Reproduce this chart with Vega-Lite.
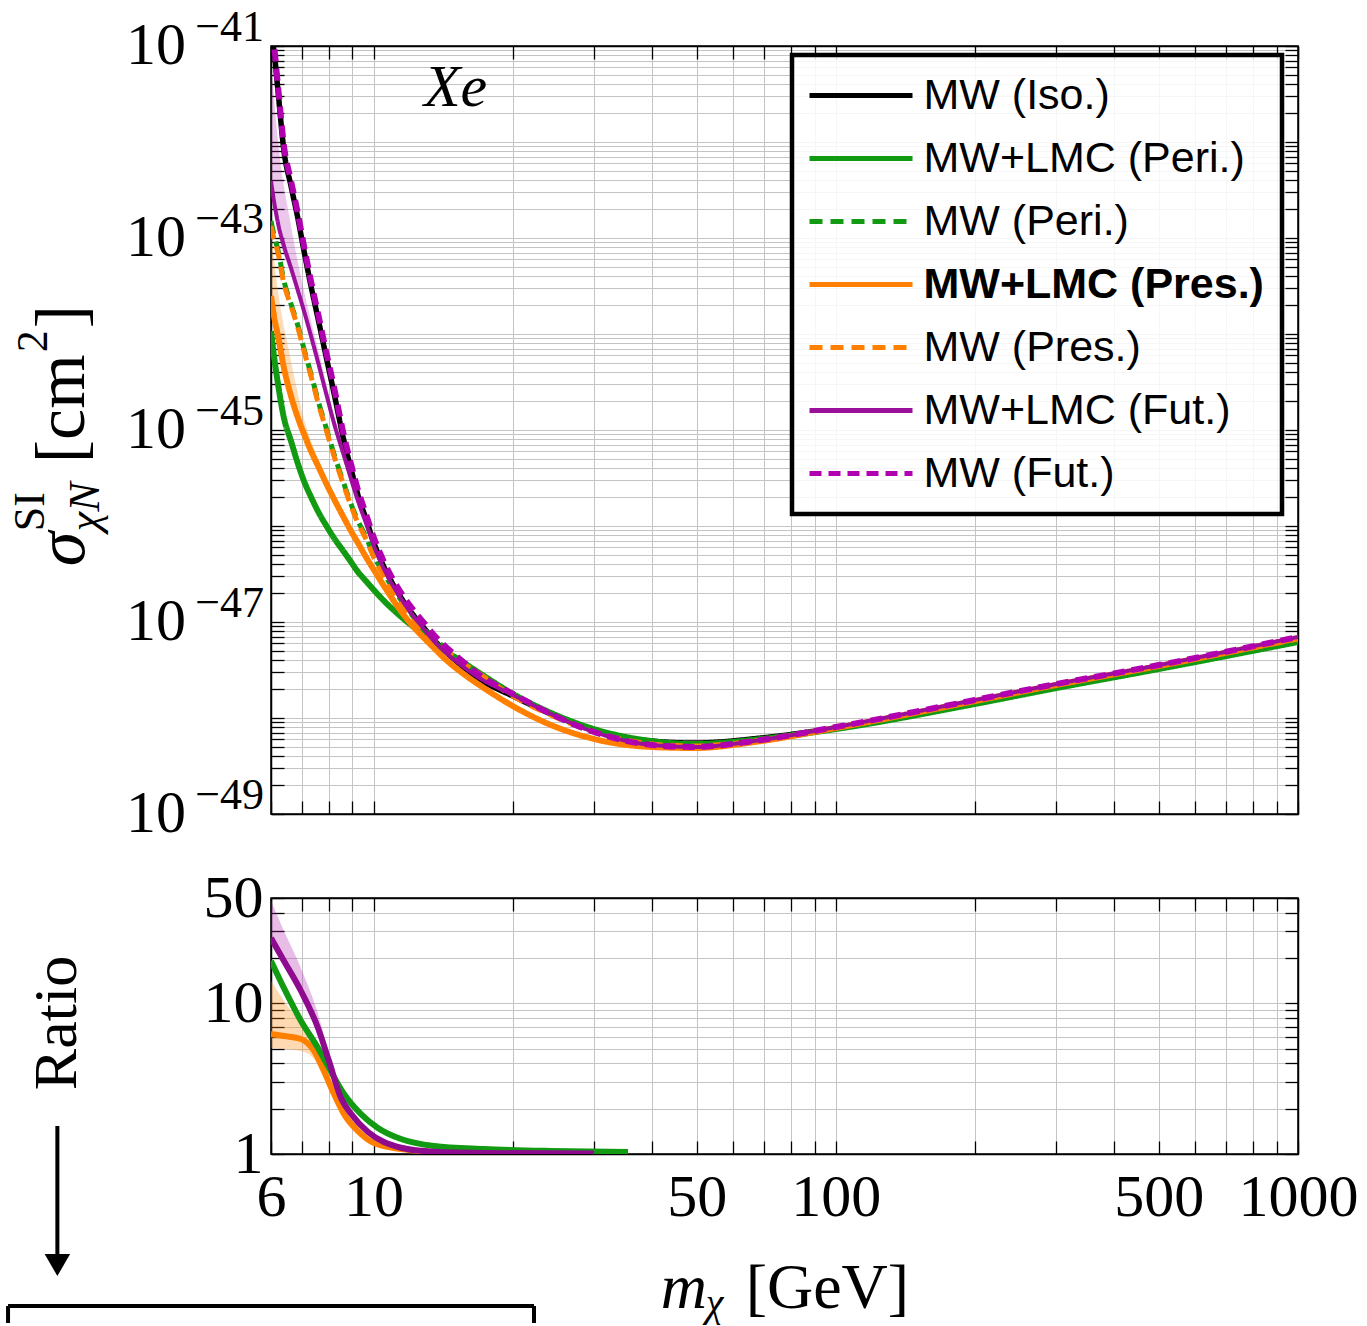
{
"$schema": "https://vega.github.io/schema/vega-lite/v6.json",
"background": "white",
"padding": {"left": 5, "top": 5, "right": 5, "bottom": 0},
"bounds": "flush",
"spacing": 84,
"config": {
  "font": "Liberation Serif",
  "view": {"stroke": "black", "strokeWidth": 1.5},
  "axis": {"tickSize": -13, "tickColor": "black", "tickWidth": 1.3, "domainColor": "black", "domainWidth": 1.5, "gridColor": "#c4c4c4", "gridWidth": 1, "labelFont": "Liberation Serif", "labelFontSize": 60, "labelColor": "black", "labelOverlap": false, "labelFlush": false, "labelBound": false}
},
"resolve": {"scale": {"color": "independent", "strokeDash": "independent"}, "legend": {"color": "independent", "strokeDash": "independent"}},
"datasets": {
"top": [
{"s":"MW (Iso.)","m":6,"v":1.27e-41},{"s":"MW (Iso.)","m":6.09,"v":8.87e-42},{"s":"MW (Iso.)","m":6.213,"v":3.40e-42},{"s":"MW (Iso.)","m":6.401,"v":8.05e-43},{"s":"MW (Iso.)","m":6.629,"v":3.48e-43},{"s":"MW (Iso.)","m":6.864,"v":1.58e-43},{"s":"MW (Iso.)","m":7.072,"v":7.33e-44},{"s":"MW (Iso.)","m":7.323,"v":3.16e-44},{"s":"MW (Iso.)","m":7.621,"v":1.30e-44},{"s":"MW (Iso.)","m":7.891,"v":5.90e-45},{"s":"MW (Iso.)","m":8.212,"v":2.43e-45},{"s":"MW (Iso.)","m":8.632,"v":7.67e-46},{"s":"MW (Iso.)","m":8.938,"v":3.92e-46},{"s":"MW (Iso.)","m":9.255,"v":2.10e-46},{"s":"MW (Iso.)","m":9.631,"v":1.18e-46},{"s":"MW (Iso.)","m":10.023,"v":6.65e-47},{"s":"MW (Iso.)","m":10.535,"v":3.74e-47},{"s":"MW (Iso.)","m":11.299,"v":2.01e-47},{"s":"MW (Iso.)","m":12.054,"v":1.27e-47},{"s":"MW (Iso.)","m":12.857,"v":8.66e-48},{"s":"MW (Iso.)","m":13.447,"v":6.65e-48},{"s":"MW (Iso.)","m":14.206,"v":5.11e-48},{"s":"MW (Iso.)","m":15.461,"v":3.56e-48},{"s":"MW (Iso.)","m":17.08,"v":2.49e-48},{"s":"MW (Iso.)","m":20.03,"v":1.69e-48},{"s":"MW (Iso.)","m":24.21,"v":1.10e-48},{"s":"MW (Iso.)","m":30,"v":7.50e-49},{"s":"MW (Iso.)","m":40,"v":5.75e-49},{"s":"MW (Iso.)","m":49.4,"v":5.49e-49},{"s":"MW (Iso.)","m":68.9,"v":6.19e-49},{"s":"MW (Iso.)","m":100,"v":7.87e-49},{"s":"MW (Iso.)","m":200,"v":1.43e-48},{"s":"MW (Iso.)","m":300,"v":2.10e-48},{"s":"MW (Iso.)","m":500,"v":3.32e-48},{"s":"MW (Iso.)","m":1000,"v":6.34e-48},
{"s":"MW+LMC (Peri.)","m":6,"v":1.07e-44},{"s":"MW+LMC (Peri.)","m":6.09,"v":5.90e-45},{"s":"MW+LMC (Peri.)","m":6.213,"v":3.01e-45},{"s":"MW+LMC (Peri.)","m":6.401,"v":1.33e-45},{"s":"MW+LMC (Peri.)","m":6.629,"v":7.67e-46},{"s":"MW+LMC (Peri.)","m":6.864,"v":4.42e-46},{"s":"MW+LMC (Peri.)","m":7.072,"v":2.94e-46},{"s":"MW+LMC (Peri.)","m":7.323,"v":2.01e-46},{"s":"MW+LMC (Peri.)","m":7.621,"v":1.36e-46},{"s":"MW+LMC (Peri.)","m":7.891,"v":1.02e-46},{"s":"MW+LMC (Peri.)","m":8.212,"v":7.50e-47},{"s":"MW+LMC (Peri.)","m":8.632,"v":5.36e-47},{"s":"MW+LMC (Peri.)","m":8.938,"v":4.22e-47},{"s":"MW+LMC (Peri.)","m":9.255,"v":3.32e-47},{"s":"MW+LMC (Peri.)","m":9.631,"v":2.67e-47},{"s":"MW+LMC (Peri.)","m":10.023,"v":2.15e-47},{"s":"MW+LMC (Peri.)","m":10.535,"v":1.66e-47},{"s":"MW+LMC (Peri.)","m":11.299,"v":1.21e-47},{"s":"MW+LMC (Peri.)","m":12.054,"v":9.31e-48},{"s":"MW+LMC (Peri.)","m":12.857,"v":7.33e-48},{"s":"MW+LMC (Peri.)","m":13.447,"v":6.19e-48},{"s":"MW+LMC (Peri.)","m":14.206,"v":5.11e-48},{"s":"MW+LMC (Peri.)","m":15.461,"v":3.92e-48},{"s":"MW+LMC (Peri.)","m":17.08,"v":2.87e-48},{"s":"MW+LMC (Peri.)","m":20.03,"v":1.78e-48},{"s":"MW+LMC (Peri.)","m":24.21,"v":1.13e-48},{"s":"MW+LMC (Peri.)","m":30,"v":7.67e-49},{"s":"MW+LMC (Peri.)","m":40,"v":5.75e-49},{"s":"MW+LMC (Peri.)","m":49.4,"v":5.36e-49},{"s":"MW+LMC (Peri.)","m":68.9,"v":6.04e-49},{"s":"MW+LMC (Peri.)","m":100,"v":7.67e-49},{"s":"MW+LMC (Peri.)","m":200,"v":1.40e-48},{"s":"MW+LMC (Peri.)","m":300,"v":2.05e-48},{"s":"MW+LMC (Peri.)","m":500,"v":3.24e-48},{"s":"MW+LMC (Peri.)","m":1000,"v":6.19e-48},
{"s":"MW (Peri.)","m":6,"v":1.50e-43},{"s":"MW (Peri.)","m":6.09,"v":1.07e-43},{"s":"MW (Peri.)","m":6.213,"v":7.50e-44},{"s":"MW (Peri.)","m":6.401,"v":3.56e-44},{"s":"MW (Peri.)","m":6.629,"v":2.05e-44},{"s":"MW (Peri.)","m":6.864,"v":1.21e-44},{"s":"MW (Peri.)","m":7.072,"v":6.98e-45},{"s":"MW (Peri.)","m":7.323,"v":3.83e-45},{"s":"MW (Peri.)","m":7.621,"v":1.87e-45},{"s":"MW (Peri.)","m":7.891,"v":1.07e-45},{"s":"MW (Peri.)","m":8.212,"v":5.62e-46},{"s":"MW (Peri.)","m":8.632,"v":2.74e-46},{"s":"MW (Peri.)","m":8.938,"v":1.69e-46},{"s":"MW (Peri.)","m":9.255,"v":1.13e-46},{"s":"MW (Peri.)","m":9.631,"v":7.67e-47},{"s":"MW (Peri.)","m":10.023,"v":4.87e-47},{"s":"MW (Peri.)","m":10.535,"v":3.16e-47},{"s":"MW (Peri.)","m":11.299,"v":1.87e-47},{"s":"MW (Peri.)","m":12.054,"v":1.21e-47},{"s":"MW (Peri.)","m":12.857,"v":8.45e-48},{"s":"MW (Peri.)","m":13.447,"v":6.81e-48},{"s":"MW (Peri.)","m":14.206,"v":5.49e-48},{"s":"MW (Peri.)","m":15.461,"v":4.02e-48},{"s":"MW (Peri.)","m":17.08,"v":2.87e-48},{"s":"MW (Peri.)","m":20.03,"v":1.74e-48},{"s":"MW (Peri.)","m":24.21,"v":1.10e-48},{"s":"MW (Peri.)","m":30,"v":7.33e-49},{"s":"MW (Peri.)","m":40,"v":5.49e-49},{"s":"MW (Peri.)","m":49.4,"v":5.24e-49},{"s":"MW (Peri.)","m":68.9,"v":6.04e-49},{"s":"MW (Peri.)","m":100,"v":7.87e-49},{"s":"MW (Peri.)","m":200,"v":1.47e-48},{"s":"MW (Peri.)","m":300,"v":2.15e-48},{"s":"MW (Peri.)","m":500,"v":3.40e-48},{"s":"MW (Peri.)","m":1000,"v":6.49e-48},
{"s":"MW+LMC (Pres.)","m":6,"v":2.49e-44},{"s":"MW+LMC (Pres.)","m":6.09,"v":1.54e-44},{"s":"MW+LMC (Pres.)","m":6.213,"v":9.53e-45},{"s":"MW+LMC (Pres.)","m":6.401,"v":4.42e-45},{"s":"MW+LMC (Pres.)","m":6.629,"v":2.26e-45},{"s":"MW+LMC (Pres.)","m":6.864,"v":1.33e-45},{"s":"MW+LMC (Pres.)","m":7.072,"v":9.08e-46},{"s":"MW+LMC (Pres.)","m":7.323,"v":6.04e-46},{"s":"MW+LMC (Pres.)","m":7.621,"v":4.02e-46},{"s":"MW+LMC (Pres.)","m":7.891,"v":2.81e-46},{"s":"MW+LMC (Pres.)","m":8.212,"v":1.91e-46},{"s":"MW+LMC (Pres.)","m":8.632,"v":1.21e-46},{"s":"MW+LMC (Pres.)","m":8.938,"v":8.87e-47},{"s":"MW+LMC (Pres.)","m":9.255,"v":6.65e-47},{"s":"MW+LMC (Pres.)","m":9.631,"v":4.75e-47},{"s":"MW+LMC (Pres.)","m":10.023,"v":3.48e-47},{"s":"MW+LMC (Pres.)","m":10.535,"v":2.37e-47},{"s":"MW+LMC (Pres.)","m":11.299,"v":1.43e-47},{"s":"MW+LMC (Pres.)","m":12.054,"v":9.53e-48},{"s":"MW+LMC (Pres.)","m":12.857,"v":6.81e-48},{"s":"MW+LMC (Pres.)","m":13.447,"v":5.49e-48},{"s":"MW+LMC (Pres.)","m":14.206,"v":4.22e-48},{"s":"MW+LMC (Pres.)","m":15.461,"v":3.01e-48},{"s":"MW+LMC (Pres.)","m":17.08,"v":2.15e-48},{"s":"MW+LMC (Pres.)","m":20.03,"v":1.33e-48},{"s":"MW+LMC (Pres.)","m":24.21,"v":8.45e-49},{"s":"MW+LMC (Pres.)","m":30,"v":6.04e-49},{"s":"MW+LMC (Pres.)","m":40,"v":4.99e-49},{"s":"MW+LMC (Pres.)","m":49.4,"v":4.87e-49},{"s":"MW+LMC (Pres.)","m":68.9,"v":5.75e-49},{"s":"MW+LMC (Pres.)","m":100,"v":7.87e-49},{"s":"MW+LMC (Pres.)","m":200,"v":1.50e-48},{"s":"MW+LMC (Pres.)","m":300,"v":2.21e-48},{"s":"MW+LMC (Pres.)","m":500,"v":3.48e-48},{"s":"MW+LMC (Pres.)","m":1000,"v":6.81e-48},
{"s":"MW (Pres.)","m":6,"v":1.33e-43},{"s":"MW (Pres.)","m":6.09,"v":9.77e-44},{"s":"MW (Pres.)","m":6.213,"v":6.98e-44},{"s":"MW (Pres.)","m":6.401,"v":3.32e-44},{"s":"MW (Pres.)","m":6.629,"v":1.96e-44},{"s":"MW (Pres.)","m":6.864,"v":1.15e-44},{"s":"MW (Pres.)","m":7.072,"v":6.65e-45},{"s":"MW (Pres.)","m":7.323,"v":3.65e-45},{"s":"MW (Pres.)","m":7.621,"v":1.78e-45},{"s":"MW (Pres.)","m":7.891,"v":1.02e-45},{"s":"MW (Pres.)","m":8.212,"v":5.36e-46},{"s":"MW (Pres.)","m":8.632,"v":2.61e-46},{"s":"MW (Pres.)","m":8.938,"v":1.62e-46},{"s":"MW (Pres.)","m":9.255,"v":1.07e-46},{"s":"MW (Pres.)","m":9.631,"v":7.33e-47},{"s":"MW (Pres.)","m":10.023,"v":4.64e-47},{"s":"MW (Pres.)","m":10.535,"v":3.01e-47},{"s":"MW (Pres.)","m":11.299,"v":1.78e-47},{"s":"MW (Pres.)","m":12.054,"v":1.15e-47},{"s":"MW (Pres.)","m":12.857,"v":8.05e-48},{"s":"MW (Pres.)","m":13.447,"v":6.49e-48},{"s":"MW (Pres.)","m":14.206,"v":5.24e-48},{"s":"MW (Pres.)","m":15.461,"v":3.83e-48},{"s":"MW (Pres.)","m":17.08,"v":2.81e-48},{"s":"MW (Pres.)","m":20.03,"v":1.69e-48},{"s":"MW (Pres.)","m":24.21,"v":1.07e-48},{"s":"MW (Pres.)","m":30,"v":7.15e-49},{"s":"MW (Pres.)","m":40,"v":5.36e-49},{"s":"MW (Pres.)","m":49.4,"v":5.11e-49},{"s":"MW (Pres.)","m":68.9,"v":5.90e-49},{"s":"MW (Pres.)","m":100,"v":7.87e-49},{"s":"MW (Pres.)","m":200,"v":1.50e-48},{"s":"MW (Pres.)","m":300,"v":2.21e-48},{"s":"MW (Pres.)","m":500,"v":3.48e-48},{"s":"MW (Pres.)","m":1000,"v":6.65e-48},
{"s":"MW+LMC (Fut.)","m":6,"v":3.93e-43},{"s":"MW+LMC (Fut.)","m":6.09,"v":2.43e-43},{"s":"MW+LMC (Fut.)","m":6.213,"v":1.43e-43},{"s":"MW+LMC (Fut.)","m":6.401,"v":8.25e-44},{"s":"MW+LMC (Fut.)","m":6.629,"v":4.87e-44},{"s":"MW+LMC (Fut.)","m":6.864,"v":2.81e-44},{"s":"MW+LMC (Fut.)","m":7.072,"v":1.74e-44},{"s":"MW+LMC (Fut.)","m":7.323,"v":9.53e-45},{"s":"MW+LMC (Fut.)","m":7.621,"v":4.64e-45},{"s":"MW+LMC (Fut.)","m":7.891,"v":2.43e-45},{"s":"MW+LMC (Fut.)","m":8.212,"v":1.18e-45},{"s":"MW+LMC (Fut.)","m":8.632,"v":5.36e-46},{"s":"MW+LMC (Fut.)","m":8.938,"v":3.09e-46},{"s":"MW+LMC (Fut.)","m":9.255,"v":1.82e-46},{"s":"MW+LMC (Fut.)","m":9.631,"v":1.07e-46},{"s":"MW+LMC (Fut.)","m":10.023,"v":6.19e-47},{"s":"MW+LMC (Fut.)","m":10.535,"v":3.56e-47},{"s":"MW+LMC (Fut.)","m":11.299,"v":1.96e-47},{"s":"MW+LMC (Fut.)","m":12.054,"v":1.24e-47},{"s":"MW+LMC (Fut.)","m":12.857,"v":8.45e-48},{"s":"MW+LMC (Fut.)","m":13.447,"v":6.49e-48},{"s":"MW+LMC (Fut.)","m":14.206,"v":4.99e-48},{"s":"MW+LMC (Fut.)","m":15.461,"v":3.56e-48},{"s":"MW+LMC (Fut.)","m":17.08,"v":2.55e-48},{"s":"MW+LMC (Fut.)","m":20.03,"v":1.74e-48},{"s":"MW+LMC (Fut.)","m":24.21,"v":1.10e-48},{"s":"MW+LMC (Fut.)","m":30,"v":7.15e-49},{"s":"MW+LMC (Fut.)","m":40,"v":5.24e-49},{"s":"MW+LMC (Fut.)","m":49.4,"v":4.99e-49},{"s":"MW+LMC (Fut.)","m":68.9,"v":5.90e-49},{"s":"MW+LMC (Fut.)","m":100,"v":8.05e-49},{"s":"MW+LMC (Fut.)","m":200,"v":1.54e-48},{"s":"MW+LMC (Fut.)","m":300,"v":2.26e-48},{"s":"MW+LMC (Fut.)","m":500,"v":3.56e-48},{"s":"MW+LMC (Fut.)","m":1000,"v":6.98e-48},
{"s":"MW (Fut.)","m":6,"v":1.43e-41},{"s":"MW (Fut.)","m":6.09,"v":1.0e-41},{"s":"MW (Fut.)","m":6.213,"v":3.83e-42},{"s":"MW (Fut.)","m":6.401,"v":9.08e-43},{"s":"MW (Fut.)","m":6.629,"v":3.93e-43},{"s":"MW (Fut.)","m":6.864,"v":1.78e-43},{"s":"MW (Fut.)","m":7.072,"v":8.25e-44},{"s":"MW (Fut.)","m":7.323,"v":3.56e-44},{"s":"MW (Fut.)","m":7.621,"v":1.47e-44},{"s":"MW (Fut.)","m":7.891,"v":6.65e-45},{"s":"MW (Fut.)","m":8.212,"v":2.81e-45},{"s":"MW (Fut.)","m":8.632,"v":8.66e-46},{"s":"MW (Fut.)","m":8.938,"v":4.42e-46},{"s":"MW (Fut.)","m":9.255,"v":2.37e-46},{"s":"MW (Fut.)","m":9.631,"v":1.33e-46},{"s":"MW (Fut.)","m":10.023,"v":7.50e-47},{"s":"MW (Fut.)","m":10.535,"v":4.22e-47},{"s":"MW (Fut.)","m":11.299,"v":2.26e-47},{"s":"MW (Fut.)","m":12.054,"v":1.43e-47},{"s":"MW (Fut.)","m":12.857,"v":9.77e-48},{"s":"MW (Fut.)","m":13.447,"v":7.50e-48},{"s":"MW (Fut.)","m":14.206,"v":5.75e-48},{"s":"MW (Fut.)","m":15.461,"v":4.02e-48},{"s":"MW (Fut.)","m":17.08,"v":2.74e-48},{"s":"MW (Fut.)","m":20.03,"v":1.78e-48},{"s":"MW (Fut.)","m":24.21,"v":1.10e-48},{"s":"MW (Fut.)","m":30,"v":7.15e-49},{"s":"MW (Fut.)","m":40,"v":5.24e-49},{"s":"MW (Fut.)","m":49.4,"v":4.99e-49},{"s":"MW (Fut.)","m":68.9,"v":5.90e-49},{"s":"MW (Fut.)","m":100,"v":8.05e-49},{"s":"MW (Fut.)","m":200,"v":1.54e-48},{"s":"MW (Fut.)","m":300,"v":2.26e-48},{"s":"MW (Fut.)","m":500,"v":3.56e-48},{"s":"MW (Fut.)","m":1000,"v":6.98e-48}
],
"band": [
{"s":"MW+LMC (Peri.)","m":6,"lo":8.56e-45,"hi":1.34e-44},{"s":"MW+LMC (Peri.)","m":6.213,"lo":2.51e-45,"hi":3.61e-45},{"s":"MW+LMC (Peri.)","m":6.629,"lo":6.67e-46,"hi":8.82e-46},{"s":"MW+LMC (Peri.)","m":7.072,"lo":2.63e-46,"hi":3.29e-46},{"s":"MW+LMC (Peri.)","m":7.621,"lo":1.24e-46,"hi":1.50e-46},{"s":"MW+LMC (Peri.)","m":8.212,"lo":6.94e-47,"hi":8.10e-47},{"s":"MW+LMC (Peri.)","m":8.938,"lo":3.94e-47,"hi":4.52e-47},{"s":"MW+LMC (Peri.)","m":10.023,"lo":2.03e-47,"hi":2.28e-47},{"s":"MW+LMC (Peri.)","m":11.299,"lo":1.15e-47,"hi":1.27e-47},{"s":"MW+LMC (Peri.)","m":12.857,"lo":7.05e-48,"hi":7.62e-48},{"s":"MW+LMC (Peri.)","m":15.461,"lo":3.81e-48,"hi":4.04e-48},{"s":"MW+LMC (Peri.)","m":20.03,"lo":1.75e-48,"hi":1.82e-48},{"s":"MW+LMC (Peri.)","m":30,"lo":7.59e-49,"hi":7.75e-49},
{"s":"MW+LMC (Pres.)","m":6,"lo":1.99e-44,"hi":1.18e-43},{"s":"MW+LMC (Pres.)","m":6.213,"lo":7.94e-45,"hi":2.8e-44},{"s":"MW+LMC (Pres.)","m":6.629,"lo":1.97e-45,"hi":5.24e-45},{"s":"MW+LMC (Pres.)","m":7.072,"lo":8.11e-46,"hi":1.30e-45},{"s":"MW+LMC (Pres.)","m":7.621,"lo":3.65e-46,"hi":4.75e-46},{"s":"MW+LMC (Pres.)","m":8.212,"lo":1.77e-46,"hi":2.15e-46},{"s":"MW+LMC (Pres.)","m":8.938,"lo":8.29e-47,"hi":9.77e-47},{"s":"MW+LMC (Pres.)","m":10.023,"lo":3.28e-47,"hi":3.69e-47},{"s":"MW+LMC (Pres.)","m":11.299,"lo":1.36e-47,"hi":1.50e-47},{"s":"MW+LMC (Pres.)","m":12.857,"lo":6.55e-48,"hi":7.08e-48},{"s":"MW+LMC (Pres.)","m":15.461,"lo":2.92e-48,"hi":3.10e-48},{"s":"MW+LMC (Pres.)","m":20.03,"lo":1.30e-48,"hi":1.36e-48},{"s":"MW+LMC (Pres.)","m":30,"lo":5.98e-49,"hi":6.10e-49},
{"s":"MW+LMC (Fut.)","m":6,"lo":3.02e-43,"hi":7.0e-42},{"s":"MW+LMC (Fut.)","m":6.213,"lo":1.14e-43,"hi":1.02e-42},{"s":"MW+LMC (Fut.)","m":6.629,"lo":4.06e-44,"hi":1.33e-43},{"s":"MW+LMC (Fut.)","m":7.072,"lo":1.51e-44,"hi":2.81e-44},{"s":"MW+LMC (Fut.)","m":7.621,"lo":4.14e-45,"hi":6.34e-45},{"s":"MW+LMC (Fut.)","m":8.212,"lo":1.07e-45,"hi":1.43e-45},{"s":"MW+LMC (Fut.)","m":8.938,"lo":2.86e-46,"hi":3.48e-46},{"s":"MW+LMC (Fut.)","m":10.023,"lo":5.84e-47,"hi":6.56e-47},{"s":"MW+LMC (Fut.)","m":11.299,"lo":1.87e-47,"hi":2.06e-47},{"s":"MW+LMC (Fut.)","m":12.857,"lo":8.13e-48,"hi":8.79e-48},{"s":"MW+LMC (Fut.)","m":15.461,"lo":3.46e-48,"hi":3.67e-48},{"s":"MW+LMC (Fut.)","m":20.03,"lo":1.71e-48,"hi":1.77e-48},{"s":"MW+LMC (Fut.)","m":30,"lo":7.08e-49,"hi":7.22e-49}
],
"ylab": [
{"v":1e-41,"e":"−41"},{"v":1e-43,"e":"−43"},{"v":1e-45,"e":"−45"},{"v":1e-47,"e":"−47"},{"v":1e-49,"e":"−49"}
],
"ratio": [
{"s":"MW+LMC (Peri.)","m":6,"r":19.1},{"s":"MW+LMC (Peri.)","m":6.401,"r":12.6},{"s":"MW+LMC (Peri.)","m":6.967,"r":7.63},{"s":"MW+LMC (Peri.)","m":7.583,"r":5.05},{"s":"MW+LMC (Peri.)","m":8.01,"r":3.72},{"s":"MW+LMC (Peri.)","m":8.632,"r":2.5},{"s":"MW+LMC (Peri.)","m":9.394,"r":1.84},{"s":"MW+LMC (Peri.)","m":10.22,"r":1.49},{"s":"MW+LMC (Peri.)","m":11.47,"r":1.257},{"s":"MW+LMC (Peri.)","m":13.51,"r":1.13},{"s":"MW+LMC (Peri.)","m":17.34,"r":1.079},{"s":"MW+LMC (Peri.)","m":24.21,"r":1.047},{"s":"MW+LMC (Peri.)","m":35.53,"r":1.031},
{"s":"MW+LMC (Fut.)","m":6,"r":27.1},{"s":"MW+LMC (Fut.)","m":6.401,"r":19.1},{"s":"MW+LMC (Fut.)","m":6.967,"r":12.07},{"s":"MW+LMC (Fut.)","m":7.583,"r":6.86},{"s":"MW+LMC (Fut.)","m":8.01,"r":4.14},{"s":"MW+LMC (Fut.)","m":8.503,"r":2.35},{"s":"MW+LMC (Fut.)","m":8.938,"r":1.85},{"s":"MW+LMC (Fut.)","m":9.728,"r":1.40},{"s":"MW+LMC (Fut.)","m":10.535,"r":1.2},{"s":"MW+LMC (Fut.)","m":11.47,"r":1.1},{"s":"MW+LMC (Fut.)","m":13.51,"r":1.035},{"s":"MW+LMC (Fut.)","m":17.34,"r":1.015},{"s":"MW+LMC (Fut.)","m":30,"r":1.008},
{"s":"MW+LMC (Pres.)","m":6,"r":6.26},{"s":"MW+LMC (Pres.)","m":6.401,"r":6.07},{"s":"MW+LMC (Pres.)","m":6.967,"r":5.8},{"s":"MW+LMC (Pres.)","m":7.434,"r":4.83},{"s":"MW+LMC (Pres.)","m":7.813,"r":3.55},{"s":"MW+LMC (Pres.)","m":8.212,"r":2.5},{"s":"MW+LMC (Pres.)","m":8.632,"r":1.84},{"s":"MW+LMC (Pres.)","m":9.255,"r":1.42},{"s":"MW+LMC (Pres.)","m":10.023,"r":1.183},{"s":"MW+LMC (Pres.)","m":11.47,"r":1.079},{"s":"MW+LMC (Pres.)","m":13.51,"r":1.031},{"s":"MW+LMC (Pres.)","m":18.87,"r":1.008},{"s":"MW+LMC (Pres.)","m":30,"r":1.0}
],
"rband": [
{"s":"MW+LMC (Fut.)","m":6,"lo":25.5,"hi":47.7},{"s":"MW+LMC (Fut.)","m":6.401,"lo":18.2,"hi":30.2},{"s":"MW+LMC (Fut.)","m":6.967,"lo":11.6,"hi":17.1},{"s":"MW+LMC (Fut.)","m":7.583,"lo":6.6,"hi":8.49},{"s":"MW+LMC (Fut.)","m":8.01,"lo":4.0,"hi":4.61},{"s":"MW+LMC (Fut.)","m":8.503,"lo":2.28,"hi":2.45},{"s":"MW+LMC (Fut.)","m":8.938,"lo":1.8,"hi":1.9},
{"s":"MW+LMC (Pres.)","m":6,"lo":5.05,"hi":14.1},{"s":"MW+LMC (Pres.)","m":6.401,"lo":4.97,"hi":10.4},{"s":"MW+LMC (Pres.)","m":6.967,"lo":4.83,"hi":7.3},{"s":"MW+LMC (Pres.)","m":7.434,"lo":4.27,"hi":5.5},{"s":"MW+LMC (Pres.)","m":7.813,"lo":3.15,"hi":3.9},{"s":"MW+LMC (Pres.)","m":8.212,"lo":2.3,"hi":2.65},{"s":"MW+LMC (Pres.)","m":8.632,"lo":1.75,"hi":1.92},
{"s":"MW+LMC (Peri.)","m":6,"lo":18.3,"hi":20.0},{"s":"MW+LMC (Peri.)","m":6.401,"lo":12.1,"hi":13.1},{"s":"MW+LMC (Peri.)","m":6.967,"lo":7.35,"hi":7.95},{"s":"MW+LMC (Peri.)","m":7.583,"lo":4.87,"hi":5.25},{"s":"MW+LMC (Peri.)","m":8.01,"lo":3.6,"hi":3.85},{"s":"MW+LMC (Peri.)","m":8.632,"lo":2.43,"hi":2.58},{"s":"MW+LMC (Peri.)","m":9.394,"lo":1.8,"hi":1.88},{"s":"MW+LMC (Peri.)","m":10.22,"lo":1.46,"hi":1.52}
]
},
"vconcat": [
{
"width": 1027, "height": 768,
"resolve": {"axis": {"x": "independent", "y": "independent"}},
"layer": [
{"data": {"name": "band"}, "transform": [{"filter": "datum.s === 'MW+LMC (Peri.)'"}],
 "mark": {"type": "area", "opacity": 0.28, "interpolate": "monotone", "clip": true},
 "encoding": {
  "x": {"field": "m", "type": "quantitative", "scale": {"type": "log", "domain": [6, 1000], "nice": false}, "axis": {"orient": "bottom", "values": [6,7,8,9,10,20,30,40,50,60,70,80,90,100,200,300,400,500,600,700,800,900,1000], "labels": false, "grid": true, "title": null}},
  "y": {"field": "lo", "type": "quantitative", "scale": {"type": "log", "domain": [1e-49, 1e-41], "nice": false}, "axis": {"orient": "left", "values": [1e-49,2e-49,3e-49,4e-49,5e-49,6e-49,7e-49,8e-49,9e-49,1e-48,2e-48,3e-48,4e-48,5e-48,6e-48,7e-48,8e-48,9e-48,1e-47,2e-47,3e-47,4e-47,5e-47,6e-47,7e-47,8e-47,9e-47,1e-46,2e-46,3e-46,4e-46,5e-46,6e-46,7e-46,8e-46,9e-46,1e-45,2e-45,3e-45,4e-45,5e-45,6e-45,7e-45,8e-45,9e-45,1e-44,2e-44,3e-44,4e-44,5e-44,6e-44,7e-44,8e-44,9e-44,1e-43,2e-43,3e-43,4e-43,5e-43,6e-43,7e-43,8e-43,9e-43,1e-42,2e-42,3e-42,4e-42,5e-42,6e-42,7e-42,8e-42,9e-42,1e-41], "labels": false, "grid": true, "title": null}},
  "y2": {"field": "hi"},
  "fill": {"field": "s", "type": "nominal", "scale": {"domain": ["MW+LMC (Peri.)", "MW+LMC (Pres.)", "MW+LMC (Fut.)"], "range": ["#129a12", "#ff8000", "#b020b0"]}, "legend": null}
 }},
{"data": {"name": "band"}, "transform": [{"filter": "datum.s === 'MW+LMC (Pres.)'"}],
 "mark": {"type": "area", "opacity": 0.28, "interpolate": "monotone", "clip": true},
 "encoding": {
  "x": {"field": "m", "type": "quantitative", "axis": {"orient": "top", "values": [6,7,8,9,10,20,30,40,50,60,70,80,90,100,200,300,400,500,600,700,800,900,1000], "labels": false, "grid": false, "title": null}},
  "y": {"field": "lo", "type": "quantitative", "axis": {"orient": "right", "values": [1e-49,2e-49,3e-49,4e-49,5e-49,6e-49,7e-49,8e-49,9e-49,1e-48,2e-48,3e-48,4e-48,5e-48,6e-48,7e-48,8e-48,9e-48,1e-47,2e-47,3e-47,4e-47,5e-47,6e-47,7e-47,8e-47,9e-47,1e-46,2e-46,3e-46,4e-46,5e-46,6e-46,7e-46,8e-46,9e-46,1e-45,2e-45,3e-45,4e-45,5e-45,6e-45,7e-45,8e-45,9e-45,1e-44,2e-44,3e-44,4e-44,5e-44,6e-44,7e-44,8e-44,9e-44,1e-43,2e-43,3e-43,4e-43,5e-43,6e-43,7e-43,8e-43,9e-43,1e-42,2e-42,3e-42,4e-42,5e-42,6e-42,7e-42,8e-42,9e-42,1e-41], "labels": false, "grid": false, "title": null}},
  "y2": {"field": "hi"},
  "fill": {"field": "s", "type": "nominal", "legend": null}
 }},
{"data": {"name": "band"}, "transform": [{"filter": "datum.s === 'MW+LMC (Fut.)'"}],
 "mark": {"type": "area", "opacity": 0.25, "interpolate": "monotone", "clip": true},
 "encoding": {
  "x": {"field": "m", "type": "quantitative", "axis": null},
  "y": {"field": "lo", "type": "quantitative", "axis": null},
  "y2": {"field": "hi"},
  "fill": {"field": "s", "type": "nominal", "legend": null}
 }},
{"data": {"name": "top"}, "transform": [{"filter": "datum.s === 'MW (Iso.)'"}],
 "mark": {"type": "line", "strokeWidth": 5.5, "interpolate": "monotone", "clip": true},
 "encoding": {
  "x": {"field": "m", "type": "quantitative", "axis": null},
  "y": {"field": "v", "type": "quantitative", "axis": null},
  "color": {"field": "s", "type": "nominal", "scale": {"domain": ["MW (Iso.)", "MW+LMC (Peri.)", "MW (Peri.)", "MW+LMC (Pres.)", "MW (Pres.)", "MW+LMC (Fut.)", "MW (Fut.)"], "range": ["#000000", "#129a12", "#129a12", "#ff8000", "#ff8000", "#9b109b", "#b000b0"]},
   "legend": {"title": null, "orient": "none", "legendX": 521, "legendY": 9, "symbolType": "M-2.575,0H2.575", "symbolSize": 1600, "symbolOffset": 28.5, "symbolStrokeWidth": 5, "labelFont": "Liberation Sans", "labelFontSize": 43, "labelColor": "black", "labelOffset": 40, "labelLimit": 0, "rowPadding": 18, "padding": 18, "strokeColor": "black", "fillColor": "rgba(255,255,255,0.85)", "encode": {"legend": {"update": {"strokeWidth": {"value": 4.5}}}, "labels": {"update": {"fontWeight": {"signal": "datum.label === 'MW+LMC (Pres.)' ? 'bold' : 'normal'"}}}}}},
  "strokeDash": {"field": "s", "type": "nominal", "scale": {"domain": ["MW (Iso.)", "MW+LMC (Peri.)", "MW (Peri.)", "MW+LMC (Pres.)", "MW (Pres.)", "MW+LMC (Fut.)", "MW (Fut.)"], "range": [[1,0],[1,0],[13,8],[1,0],[13,8],[1,0],[12,7]]},
   "legend": {"title": null, "orient": "none", "legendX": 521, "legendY": 9, "symbolType": "M-2.575,0H2.575", "symbolSize": 1600, "symbolOffset": 28.5, "symbolStrokeWidth": 5, "labelFont": "Liberation Sans", "labelFontSize": 43, "labelColor": "black", "labelOffset": 40, "labelLimit": 0, "rowPadding": 18, "padding": 18, "strokeColor": "black", "fillColor": "rgba(255,255,255,0.85)", "encode": {"legend": {"update": {"strokeWidth": {"value": 4.5}}}, "labels": {"update": {"fontWeight": {"signal": "datum.label === 'MW+LMC (Pres.)' ? 'bold' : 'normal'"}}}}}}
 }},
{"data": {"name": "top"}, "transform": [{"filter": "datum.s === 'MW+LMC (Peri.)'"}],
 "mark": {"type": "line", "strokeWidth": 6, "interpolate": "monotone", "clip": true},
 "encoding": {"x": {"field": "m", "type": "quantitative", "axis": null}, "y": {"field": "v", "type": "quantitative", "axis": null}, "color": {"field": "s", "type": "nominal"}, "strokeDash": {"field": "s", "type": "nominal"}}},
{"data": {"name": "top"}, "transform": [{"filter": "datum.s === 'MW (Peri.)'"}],
 "mark": {"type": "line", "strokeWidth": 5, "interpolate": "monotone", "clip": true},
 "encoding": {"x": {"field": "m", "type": "quantitative", "axis": null}, "y": {"field": "v", "type": "quantitative", "axis": null}, "color": {"field": "s", "type": "nominal"}, "strokeDash": {"field": "s", "type": "nominal"}}},
{"data": {"name": "top"}, "transform": [{"filter": "datum.s === 'MW+LMC (Pres.)'"}],
 "mark": {"type": "line", "strokeWidth": 6, "interpolate": "monotone", "clip": true},
 "encoding": {"x": {"field": "m", "type": "quantitative", "axis": null}, "y": {"field": "v", "type": "quantitative", "axis": null}, "color": {"field": "s", "type": "nominal"}, "strokeDash": {"field": "s", "type": "nominal"}}},
{"data": {"name": "top"}, "transform": [{"filter": "datum.s === 'MW (Pres.)'"}],
 "mark": {"type": "line", "strokeWidth": 5, "interpolate": "monotone", "clip": true},
 "encoding": {"x": {"field": "m", "type": "quantitative", "axis": null}, "y": {"field": "v", "type": "quantitative", "axis": null}, "color": {"field": "s", "type": "nominal"}, "strokeDash": {"field": "s", "type": "nominal"}}},
{"data": {"name": "top"}, "transform": [{"filter": "datum.s === 'MW+LMC (Fut.)'"}],
 "mark": {"type": "line", "strokeWidth": 4, "interpolate": "monotone", "clip": true},
 "encoding": {"x": {"field": "m", "type": "quantitative", "axis": null}, "y": {"field": "v", "type": "quantitative", "axis": null}, "color": {"field": "s", "type": "nominal"}, "strokeDash": {"field": "s", "type": "nominal"}}},
{"data": {"name": "top"}, "transform": [{"filter": "datum.s === 'MW (Fut.)'"}],
 "mark": {"type": "line", "strokeWidth": 6, "interpolate": "monotone", "clip": true},
 "encoding": {"x": {"field": "m", "type": "quantitative", "axis": null}, "y": {"field": "v", "type": "quantitative", "axis": null}, "color": {"field": "s", "type": "nominal"}, "strokeDash": {"field": "s", "type": "nominal"}}},
{"data": {"name": "ylab"},
 "mark": {"type": "text", "font": "Liberation Serif", "fontSize": 60, "align": "right", "baseline": "alphabetic", "dx": -85, "dy": 18, "color": "black"},
 "encoding": {"x": {"datum": 6, "type": "quantitative", "axis": null}, "y": {"field": "v", "type": "quantitative", "axis": null}, "text": {"value": "10"}}},
{"data": {"name": "ylab"},
 "mark": {"type": "text", "font": "Liberation Serif", "fontSize": 44, "align": "right", "baseline": "alphabetic", "dx": -7, "dy": -5, "color": "black"},
 "encoding": {"x": {"datum": 6, "type": "quantitative", "axis": null}, "y": {"field": "v", "type": "quantitative", "axis": null}, "text": {"field": "e"}}},
{"data": {"values": [{}]},
 "mark": {"type": "text", "font": "Liberation Serif", "fontSize": 70, "fontStyle": "italic", "align": "left", "baseline": "alphabetic", "angle": 270, "dx": -2, "dy": -187, "color": "black"},
 "encoding": {"x": {"datum": 6, "type": "quantitative", "axis": null}, "y": {"datum": 4e-47, "type": "quantitative", "axis": null}, "text": {"value": "σ"}}},
{"data": {"values": [{}]},
 "mark": {"type": "text", "font": "Liberation Serif", "fontSize": 44, "align": "left", "baseline": "alphabetic", "angle": 270, "dx": 33, "dy": -227, "color": "black"},
 "encoding": {"x": {"datum": 6, "type": "quantitative", "axis": null}, "y": {"datum": 4e-47, "type": "quantitative", "axis": null}, "text": {"value": "SI"}}},
{"data": {"values": [{}]},
 "mark": {"type": "text", "font": "Liberation Serif", "fontSize": 44, "fontStyle": "italic", "align": "left", "baseline": "alphabetic", "angle": 270, "dx": 33, "dy": -172, "color": "black"},
 "encoding": {"x": {"datum": 6, "type": "quantitative", "axis": null}, "y": {"datum": 4e-47, "type": "quantitative", "axis": null}, "text": {"value": "χN"}}},
{"data": {"values": [{}]},
 "mark": {"type": "text", "font": "Liberation Serif", "fontSize": 70, "align": "left", "baseline": "alphabetic", "angle": 270, "dx": 101, "dy": -187, "color": "black"},
 "encoding": {"x": {"datum": 6, "type": "quantitative", "axis": null}, "y": {"datum": 4e-47, "type": "quantitative", "axis": null}, "text": {"value": "[cm"}}},
{"data": {"values": [{}]},
 "mark": {"type": "text", "font": "Liberation Serif", "fontSize": 44, "align": "left", "baseline": "alphabetic", "angle": 270, "dx": 212, "dy": -224, "color": "black"},
 "encoding": {"x": {"datum": 6, "type": "quantitative", "axis": null}, "y": {"datum": 4e-47, "type": "quantitative", "axis": null}, "text": {"value": "2"}}},
{"data": {"values": [{}]},
 "mark": {"type": "text", "font": "Liberation Serif", "fontSize": 70, "align": "left", "baseline": "alphabetic", "angle": 270, "dx": 236, "dy": -187, "color": "black"},
 "encoding": {"x": {"datum": 6, "type": "quantitative", "axis": null}, "y": {"datum": 4e-47, "type": "quantitative", "axis": null}, "text": {"value": "]"}}},
{"data": {"values": [{}]},
 "mark": {"type": "text", "font": "Liberation Serif", "fontSize": 60, "fontStyle": "italic", "align": "center", "baseline": "alphabetic", "dy": -3, "color": "black"},
 "encoding": {"x": {"datum": 15.05, "type": "quantitative", "axis": null}, "y": {"datum": 2.21e-42, "type": "quantitative", "axis": null}, "text": {"value": "Xe"}}}
]
},
{
"width": 1027, "height": 256,
"resolve": {"axis": {"x": "independent", "y": "independent"}},
"layer": [
{"data": {"name": "rband"}, "transform": [{"filter": "datum.s === 'MW+LMC (Fut.)'"}],
 "mark": {"type": "area", "opacity": 0.3, "interpolate": "monotone", "clip": true},
 "encoding": {
  "x": {"field": "m", "type": "quantitative", "scale": {"type": "log", "domain": [6, 1000], "nice": false}, "axis": {"orient": "bottom", "values": [6,7,8,9,10,20,30,40,50,60,70,80,90,100,200,300,400,500,600,700,800,900,1000], "format": "d", "labelExpr": "indexof([6,10,50,100,500,1000], datum.value) >= 0 ? datum.label : ''", "labelPadding": 27, "grid": true, "title": null}},
  "y": {"field": "lo", "type": "quantitative", "scale": {"type": "log", "domain": [1, 50], "nice": false}, "axis": {"orient": "left", "values": [1,2,3,4,5,6,7,8,9,10,20,30,40,50], "format": "d", "labelExpr": "indexof([1,10,50], datum.value) >= 0 ? datum.label : ''", "labelPadding": 21, "grid": true, "title": null}},
  "y2": {"field": "hi"},
  "fill": {"field": "s", "type": "nominal", "scale": {"domain": ["MW+LMC (Peri.)", "MW+LMC (Pres.)", "MW+LMC (Fut.)"], "range": ["#129a12", "#ff8000", "#b020b0"]}, "legend": null}
 }},
{"data": {"name": "rband"}, "transform": [{"filter": "datum.s === 'MW+LMC (Pres.)'"}],
 "mark": {"type": "area", "opacity": 0.3, "interpolate": "monotone", "clip": true},
 "encoding": {
  "x": {"field": "m", "type": "quantitative", "axis": {"orient": "top", "values": [6,7,8,9,10,20,30,40,50,60,70,80,90,100,200,300,400,500,600,700,800,900,1000], "labels": false, "grid": false, "title": null}},
  "y": {"field": "lo", "type": "quantitative", "axis": {"orient": "right", "values": [1,2,3,4,5,6,7,8,9,10,20,30,40,50], "labels": false, "grid": false, "title": null}},
  "y2": {"field": "hi"},
  "fill": {"field": "s", "type": "nominal", "legend": null}
 }},
{"data": {"name": "rband"}, "transform": [{"filter": "datum.s === 'MW+LMC (Peri.)'"}],
 "mark": {"type": "area", "opacity": 0.3, "interpolate": "monotone", "clip": true},
 "encoding": {
  "x": {"field": "m", "type": "quantitative", "axis": null},
  "y": {"field": "lo", "type": "quantitative", "axis": null},
  "y2": {"field": "hi"},
  "fill": {"field": "s", "type": "nominal", "legend": null}
 }},
{"data": {"name": "ratio"}, "transform": [{"filter": "datum.s === 'MW+LMC (Pres.)'"}],
 "mark": {"type": "line", "strokeWidth": 6, "interpolate": "monotone", "clip": true},
 "encoding": {"x": {"field": "m", "type": "quantitative", "axis": null}, "y": {"field": "r", "type": "quantitative", "axis": null},
  "stroke": {"field": "s", "type": "nominal", "scale": {"domain": ["MW+LMC (Peri.)", "MW+LMC (Pres.)", "MW+LMC (Fut.)"], "range": ["#129a12", "#ff8000", "#8e0a8e"]}, "legend": null}}},
{"data": {"name": "ratio"}, "transform": [{"filter": "datum.s === 'MW+LMC (Peri.)'"}],
 "mark": {"type": "line", "strokeWidth": 6, "interpolate": "monotone", "clip": true},
 "encoding": {"x": {"field": "m", "type": "quantitative", "axis": null}, "y": {"field": "r", "type": "quantitative", "axis": null}, "stroke": {"field": "s", "type": "nominal", "legend": null}}},
{"data": {"name": "ratio"}, "transform": [{"filter": "datum.s === 'MW+LMC (Fut.)'"}],
 "mark": {"type": "line", "strokeWidth": 6, "interpolate": "monotone", "clip": true},
 "encoding": {"x": {"field": "m", "type": "quantitative", "axis": null}, "y": {"field": "r", "type": "quantitative", "axis": null}, "stroke": {"field": "s", "type": "nominal", "legend": null}}},
{"data": {"values": [{}]},
 "mark": {"type": "text", "font": "Liberation Serif", "fontSize": 62, "align": "center", "baseline": "alphabetic", "angle": 270, "dy": -195, "color": "black"},
 "encoding": {"x": {"datum": 6, "type": "quantitative", "axis": null}, "y": {"datum": 7.4, "type": "quantitative", "axis": null}, "text": {"value": "Ratio"}}},
{"data": {"values": [{}]},
 "mark": {"type": "text", "font": "Liberation Serif", "fontSize": 64, "fontStyle": "italic", "align": "left", "baseline": "alphabetic", "dy": 154, "color": "black"},
 "encoding": {"x": {"datum": 41.8, "type": "quantitative", "axis": null}, "y": {"datum": 1, "type": "quantitative", "axis": null}, "text": {"value": "m"}}},
{"data": {"values": [{}]},
 "mark": {"type": "text", "font": "Liberation Serif", "fontSize": 40, "fontStyle": "italic", "align": "left", "baseline": "alphabetic", "dx": 45, "dy": 162, "color": "black"},
 "encoding": {"x": {"datum": 41.8, "type": "quantitative", "axis": null}, "y": {"datum": 1, "type": "quantitative", "axis": null}, "text": {"value": "χ"}}},
{"data": {"values": [{}]},
 "mark": {"type": "text", "font": "Liberation Serif", "fontSize": 64, "align": "left", "baseline": "alphabetic", "dx": 85, "dy": 154, "color": "black"},
 "encoding": {"x": {"datum": 41.8, "type": "quantitative", "axis": null}, "y": {"datum": 1, "type": "quantitative", "axis": null}, "text": {"value": "[GeV]"}}},
{"data": {"values": [{}]},
 "mark": {"type": "rule", "strokeWidth": 4, "color": "black"},
 "encoding": {"x": {"datum": 2.07, "type": "quantitative", "axis": null}, "y": {"datum": 1.535, "type": "quantitative", "axis": null}, "y2": {"datum": 0.205}}},
{"data": {"values": [{}]},
 "mark": {"type": "point", "shape": "triangle-down", "filled": true, "size": 650, "color": "black", "opacity": 1},
 "encoding": {"x": {"datum": 2.07, "type": "quantitative", "axis": null}, "y": {"datum": 0.1834, "type": "quantitative", "axis": null}}},
{"data": {"values": [{}]},
 "mark": {"type": "rule", "strokeWidth": 4, "color": "black"},
 "encoding": {"x": {"datum": 1.619, "type": "quantitative", "axis": null}, "x2": {"datum": 22.24}, "y": {"datum": 0.098, "type": "quantitative", "axis": null}}},
{"data": {"values": [{}]},
 "mark": {"type": "rule", "strokeWidth": 4, "color": "black"},
 "encoding": {"x": {"datum": 1.619, "type": "quantitative", "axis": null}, "y": {"datum": 0.098, "type": "quantitative", "axis": null}, "y2": {"datum": 0.0756}}},
{"data": {"values": [{}]},
 "mark": {"type": "rule", "strokeWidth": 4, "color": "black"},
 "encoding": {"x": {"datum": 22.24, "type": "quantitative", "axis": null}, "y": {"datum": 0.098, "type": "quantitative", "axis": null}, "y2": {"datum": 0.0756}}}
]
}
]
}
